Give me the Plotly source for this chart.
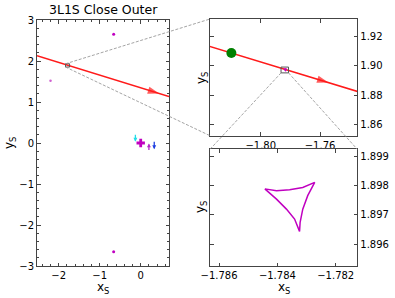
import plotly.graph_objects as go

W, H = 395, 298

# ---------------- data ----------------
traj_x = [-2.53, 0.69]
traj_y = [2.129, 1.131]

arrow_main_x = [0.30, 0.45]
arrow_main_y = [1.252, 1.205]
arrow_ins_x = [-1.7650, -1.7544]
arrow_ins_y = [1.8919, 1.8886]

src_x = [-1.8198]
src_y = [1.9089]

caustic_x = [-1.78443, -1.78403, -1.78358, -1.78313, -1.78272, -1.78296, -1.78313,
             -1.78322, -1.78324, -1.78341, -1.78369, -1.78403, -1.78443]
caustic_y = [1.89788, 1.89782, 1.89785, 1.89793, 1.89810, 1.89765, 1.89719,
             1.89674, 1.89643, 1.89685, 1.89719, 1.89753, 1.89788]

lens_plus_x = [0.0]
lens_plus_y = [0.0]
lens_dot_x = [-0.66, -0.66]
lens_dot_y = [2.65, -2.65]
small_dot_x = [-2.20]
small_dot_y = [1.52]

quiver_tail_x = [-0.13, 0.20, 0.33]
quiver_tail_y = [0.24, -0.21, 0.07]
quiver_head_x = [-0.13, 0.20, 0.33]
quiver_head_y = [0.03, -0.01, -0.15]
quiver_colors = ["#22dde8", "#b428c8", "#1f3fe0"]

main_xrange = [-2.53, 0.69]
main_yrange = [-3.0, 3.0]
in1_xrange = [-1.8342, -1.7349]
in1_yrange = [1.8523, 1.9321]
in2_xrange = [-1.78631, -1.78126]
in2_yrange = [1.89525, 1.89923]

in1_xticks = [-1.80, -1.76]
in1_yticks = [1.86, 1.88, 1.90, 1.92]
in2_xticks = [-1.786, -1.784, -1.782]
in2_yticks = [1.896, 1.897, 1.898, 1.899]

title_text = "3L1S Close Outer"

# ---------------- layout geometry (pixels) ----------------
def dx(a, b):
    return [a / W, b / W]

def dy(top, bottom):
    return [1 - bottom / H, 1 - top / H]

main_xd, main_yd = dx(37, 169), dy(20, 266)
in1_xd, in1_yd = dx(210, 357.3), dy(19, 135.7)
in2_xd, in2_yd = dx(210, 357.3), dy(149.3, 266)

RED = "#ff1a1a"
MAG = "#c000c0"
EDGE = "#444444"

fig = go.Figure()

# trajectory
for xa, ya in [("x", "y"), ("x2", "y2")]:
    fig.add_trace(go.Scatter(x=traj_x, y=traj_y, mode="lines", xaxis=xa, yaxis=ya,
                             line=dict(color=RED, width=1.5), hoverinfo="skip"))

# arrows on trajectory
for ax_, ay_, xa, ya in [(arrow_main_x, arrow_main_y, "x", "y"), (arrow_ins_x, arrow_ins_y, "x2", "y2")]:
    fig.add_trace(go.Scatter(x=ax_, y=ay_, mode="markers", xaxis=xa, yaxis=ya,
                             marker=dict(symbol="arrow", size=[0, 12], angleref="previous",
                                         color=RED, line=dict(width=0)),
                             hoverinfo="skip"))

# caustic on all panels
for xa, ya, w in [("x", "y", 1), ("x2", "y2", 1.2), ("x3", "y3", 1.5)]:
    fig.add_trace(go.Scatter(x=caustic_x, y=caustic_y, mode="lines", xaxis=xa, yaxis=ya,
                             line=dict(color=MAG, width=w), hoverinfo="skip"))

# lens markers
fig.add_trace(go.Scatter(x=lens_plus_x, y=lens_plus_y, mode="markers",
                         marker=dict(symbol="cross", size=7, color=MAG, line=dict(width=0))))
fig.add_trace(go.Scatter(x=lens_dot_x, y=lens_dot_y, mode="markers",
                         marker=dict(symbol="circle", size=3, color=MAG, line=dict(width=0))))
fig.add_trace(go.Scatter(x=small_dot_x, y=small_dot_y, mode="markers",
                         marker=dict(symbol="circle", size=2.5, color="#d060d0", line=dict(width=0))))

# source
fig.add_trace(go.Scatter(x=src_x, y=src_y, mode="markers", xaxis="x2", yaxis="y2",
                         marker=dict(symbol="circle", size=10, color="#008000", line=dict(width=0))))

annotations = []
for tx, ty, hx, hy, c in zip(quiver_tail_x, quiver_tail_y, quiver_head_x, quiver_head_y, quiver_colors):
    annotations.append(dict(x=hx, y=hy, ax=tx, ay=ty, xref="x", yref="y", axref="x", ayref="y",
                            text="", showarrow=True, arrowhead=2, arrowsize=0.6, arrowwidth=1.3,
                            arrowcolor=c))

# labels
lab_font = dict(family="DejaVu Sans", size=12, color="black")
annotations += [
    dict(text=title_text, x=103 / W, y=1 - 10 / H, xref="paper", yref="paper", showarrow=False,
         font=dict(family="DejaVu Sans", size=12.5, color="black"), xanchor="center", yanchor="middle"),
    dict(text="y<sub>S</sub>", x=10 / W, y=1 - 143 / H, xref="paper", yref="paper", showarrow=False,
         textangle=-90, font=lab_font, xanchor="center", yanchor="middle"),
    dict(text="x<sub>S</sub>", x=103 / W, y=1 - 288 / H, xref="paper", yref="paper", showarrow=False,
         font=lab_font, xanchor="center", yanchor="middle"),
    dict(text="y<sub>S</sub>", x=202 / W, y=1 - 78 / H, xref="paper", yref="paper", showarrow=False,
         textangle=-90, font=lab_font, xanchor="center", yanchor="middle"),
    dict(text="y<sub>S</sub>", x=201 / W, y=1 - 207 / H, xref="paper", yref="paper", showarrow=False,
         textangle=-90, font=lab_font, xanchor="center", yanchor="middle"),
    dict(text="x<sub>S</sub>", x=284 / W, y=1 - 288 / H, xref="paper", yref="paper", showarrow=False,
         font=lab_font, xanchor="center", yanchor="middle"),
]

# inset boxes and connectors
def to_paper(v, rng, dom):
    return dom[0] + (v - rng[0]) / (rng[1] - rng[0]) * (dom[1] - dom[0])

GRAY = "#9a9a9a"
DASH = "3px,1.6px"
shapes = [
    dict(type="rect", xref="x", yref="y", x0=in1_xrange[0], x1=in1_xrange[1],
         y0=in1_yrange[0], y1=in1_yrange[1], line=dict(color="#555555", width=1)),
    dict(type="rect", xref="x2", yref="y2", x0=in2_xrange[0], x1=in2_xrange[1],
         y0=in2_yrange[0], y1=in2_yrange[1], line=dict(color="#555555", width=1)),
]
bx = to_paper(in1_xrange[0], main_xrange, main_xd)
by_top = to_paper(in1_yrange[1], main_yrange, main_yd)
by_bot = to_paper(in1_yrange[0], main_yrange, main_yd)
shapes.append(dict(type="line", xref="paper", yref="paper", x0=bx, y0=by_top, x1=in1_xd[0], y1=in1_yd[1],
                   line=dict(color=GRAY, width=0.9, dash=DASH)))
shapes.append(dict(type="line", xref="paper", yref="paper", x0=bx, y0=by_bot, x1=in1_xd[0], y1=in1_yd[0],
                   line=dict(color=GRAY, width=0.9, dash=DASH)))
b2l = to_paper(in2_xrange[0], in1_xrange, in1_xd)
b2r = to_paper(in2_xrange[1], in1_xrange, in1_xd)
b2b = to_paper(in2_yrange[0], in1_yrange, in1_yd)
shapes.append(dict(type="line", xref="paper", yref="paper", x0=b2l, y0=b2b, x1=in2_xd[0], y1=in2_yd[1],
                   line=dict(color=GRAY, width=0.9, dash=DASH)))
shapes.append(dict(type="line", xref="paper", yref="paper", x0=b2r, y0=b2b, x1=in2_xd[1], y1=in2_yd[1],
                   line=dict(color=GRAY, width=0.9, dash=DASH)))

tickfont = dict(family="DejaVu Sans", size=10, color="black")
base = dict(showline=True, linecolor=EDGE, linewidth=1, mirror="ticks", ticks="inside",
            ticklen=3.5, tickwidth=1, tickcolor=EDGE, showgrid=False, zeroline=False,
            tickfont=tickfont, fixedrange=True, automargin=False)

fig.update_layout(
    width=W, height=H, margin=dict(l=0, r=0, t=0, b=0, pad=0, autoexpand=False),
    paper_bgcolor="white", plot_bgcolor="white", showlegend=False,
    xaxis=dict(base, domain=main_xd, range=main_xrange, dtick=1, anchor="y",
               minor=dict(ticks="inside", ticklen=2, dtick=0.2, tickcolor=EDGE, showgrid=False)),
    yaxis=dict(base, domain=main_yd, range=main_yrange, dtick=1, anchor="x",
               minor=dict(ticks="inside", ticklen=2, dtick=0.2, tickcolor=EDGE, showgrid=False)),
    xaxis2=dict(base, domain=in1_xd, range=in1_xrange, tickvals=in1_xticks, tickformat=".2f", anchor="y2"),
    yaxis2=dict(base, domain=in1_yd, range=in1_yrange, tickvals=in1_yticks, tickformat=".2f",
                anchor="x2", side="right"),
    xaxis3=dict(base, domain=in2_xd, range=in2_xrange, tickvals=in2_xticks, tickformat=".3f", anchor="y3"),
    yaxis3=dict(base, domain=in2_yd, range=in2_yrange, tickvals=in2_yticks, tickformat=".3f",
                anchor="x3", side="right"),
    annotations=annotations, shapes=shapes,
)

fig.write_html("out.html", config={"responsive": False, "displayModeBar": False},
               post_script="document.body.style.margin='0';document.body.style.padding='0';")
